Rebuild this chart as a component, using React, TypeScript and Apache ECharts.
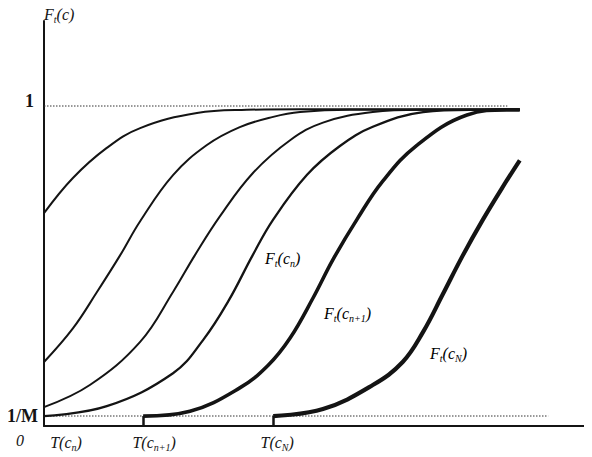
import React, { useEffect, useRef } from "react";
import * as echarts from "echarts";

// Horizontal extent (time) and vertical extent (cumulative probability)
const T_MAX = 11;
const Y_MAX = 1.265625;
const ONE_OVER_M = 0.03125;

// Threshold times where the later curves start
const T_CN = 0;
const T_CN1 = 1.99;
const T_CNN = 4.6;

// Cumulative curves F_t(c) for successive c
const curve1: [number, number][] = [
  [0, 0.665], [0.58, 0.775], [1.26, 0.869], [1.93, 0.931], [3.07, 0.978],
  [4.07, 0.988], [5.14, 0.99], [9.55, 0.99],
];
const curve2: [number, number][] = [
  [0, 0.2], [0.58, 0.305], [1.06, 0.418], [1.53, 0.534], [1.93, 0.64],
  [2.59, 0.784], [3.27, 0.878], [3.93, 0.934], [4.6, 0.966], [5.14, 0.981],
  [6.14, 0.988], [9.55, 0.988],
];
const curve3: [number, number][] = [
  [0, 0.059], [0.92, 0.128], [1.93, 0.263], [2.59, 0.419], [3.03, 0.534],
  [3.53, 0.655], [4.19, 0.79], [4.94, 0.893], [5.6, 0.948], [6.6, 0.981],
  [7.55, 0.988], [9.55, 0.988],
];
const curveN: [number, number][] = [
  [0, 0.031], [1.26, 0.062], [2.59, 0.165], [3.2, 0.27], [3.7, 0.39],
  [4.19, 0.534], [4.6, 0.645], [5.28, 0.785], [5.94, 0.875], [6.6, 0.935],
  [7.61, 0.981], [8.55, 0.988], [9.55, 0.988],
];
const curveN1: [number, number][] = [
  [1.99, 0.031], [2.93, 0.046], [3.93, 0.119], [4.5, 0.19], [4.94, 0.275],
  [5.4, 0.4], [5.8, 0.52], [6.28, 0.645], [6.8, 0.765], [7.49, 0.878],
  [8.49, 0.972], [9.29, 0.988], [9.55, 0.988],
];
const curveNN: [number, number][] = [
  [4.6, 0.031], [5.6, 0.053], [6.6, 0.128], [7.2, 0.2], [7.61, 0.294],
  [8.0, 0.41], [8.41, 0.534], [8.81, 0.645], [9.2, 0.745], [9.55, 0.83],
];

// Dotted reference levels 1 and 1/M
const levelOne: [number, number][] = [[0, 1], [9.3, 1]];
const levelInvM: [number, number][] = [[0, ONE_OVER_M], [10.12, ONE_OVER_M]];

const xTickValues = [T_CN, T_CN1, T_CNN];
const xTickLabels = [
  "{pa|T(c}{sub|n}{it|)}",
  "{pb|T(c}{sub|n+1}{it|)}",
  "{pc|T(c}{sub|N}{it|)}",
];
const yTickValues = [ONE_OVER_M, 1];
const yTickLabels = ["{m|1/M}", "{one|1}"];

const SERIF = '"Liberation Serif", "DejaVu Serif", serif';
const INK = "#141414";

const it = { fontFamily: SERIF, fontStyle: "italic", fontSize: 16, color: INK, lineHeight: 20 };
const sub = {
  fontFamily: SERIF, fontStyle: "italic", fontSize: 10, color: INK,
  verticalAlign: "bottom", lineHeight: 10,
};
const richBase = { it, sub };

export default function App() {
  const ref = useRef<HTMLDivElement>(null);

  useEffect(() => {
    if (!ref.current) return;
    const chart = echarts.init(ref.current, null, { renderer: "svg" });

    const curve = (data: [number, number][], width: number) => ({
      type: "line",
      data,
      showSymbol: false,
      smooth: 0.4,
      lineStyle: { color: INK, width },
      silent: true,
      z: 3,
    });
    const dotted = (data: [number, number][]) => ({
      type: "line",
      data,
      showSymbol: false,
      lineStyle: { color: "#333", width: 1, type: [1.5, 1.5] },
      silent: true,
      z: 2,
    });

    chart.setOption({
      animation: false,
      grid: { left: 44, right: 0, top: 21, bottom: 31 },
      xAxis: {
        type: "value",
        min: 0,
        max: T_MAX,
        splitLine: { show: false },
        axisLine: { lineStyle: { color: INK, width: 2 } },
        axisTick: {
          show: true,
          customValues: [T_CN1, T_CNN],
          inside: true,
          length: 10,
          lineStyle: { color: INK, width: 2.5 },
        },
        axisLabel: {
          customValues: xTickValues,
          margin: 6,
          formatter: (v: number) => xTickLabels[xTickValues.indexOf(v)] ?? "",
          rich: {
            ...richBase,
            pa: { ...it, padding: [0, 0, 0, 44] },
            pb: { ...it, padding: [0, 0, 0, 22] },
            pc: { ...it, padding: [0, 0, 0, 8] },
          },
        },
      },
      yAxis: {
        type: "value",
        min: 0,
        max: Y_MAX,
        splitLine: { show: false },
        axisLine: { show: true, lineStyle: { color: INK, width: 2 } },
        axisTick: { show: false },
        name: "{it|F}{sub|t}{it|(c)}",
        nameLocation: "end",
        nameGap: 7,
        nameTextStyle: { align: "left", verticalAlign: "middle", rich: richBase },
        axisLabel: {
          customValues: yTickValues,
          margin: 6,
          formatter: (v: number) => yTickLabels[yTickValues.indexOf(v)] ?? "",
          rich: {
            m: { fontFamily: SERIF, fontSize: 18, fontWeight: "bold", color: INK },
            one: {
              fontFamily: SERIF, fontSize: 18, fontWeight: "bold", color: INK,
              padding: [0, 4, 10, 0],
            },
          },
        },
      },
      graphic: [
        {
          type: "text", left: 16, top: 432,
          style: { text: "0", font: `italic 16px ${SERIF}`, fill: INK },
        },
        {
          type: "text", left: 587, top: 441,
          style: { text: "t", font: `italic 16px ${SERIF}`, fill: INK },
        },
        {
          type: "text", left: 265, top: 250,
          style: { text: "{it|F}{sub|t}{it|(c}{sub|n}{it|)}", rich: richBase },
        },
        {
          type: "text", left: 324, top: 305,
          style: { text: "{it|F}{sub|t}{it|(c}{sub|n+1}{it|)}", rich: richBase },
        },
        {
          type: "text", left: 430, top: 345,
          style: { text: "{it|F}{sub|t}{it|(c}{sub|N}{it|)}", rich: richBase },
        },
      ],
      series: [
        dotted(levelOne),
        dotted(levelInvM),
        curve(curve1, 2),
        curve(curve2, 2),
        curve(curve3, 2),
        curve(curveN, 2.3),
        curve(curveN1, 3.6),
        curve(curveNN, 4.2),
      ],
    });

    return () => chart.dispose();
  }, []);

  return <div ref={ref} style={{ width: 592, height: 457, marginLeft: -8, marginTop: -8 }} />;
}
